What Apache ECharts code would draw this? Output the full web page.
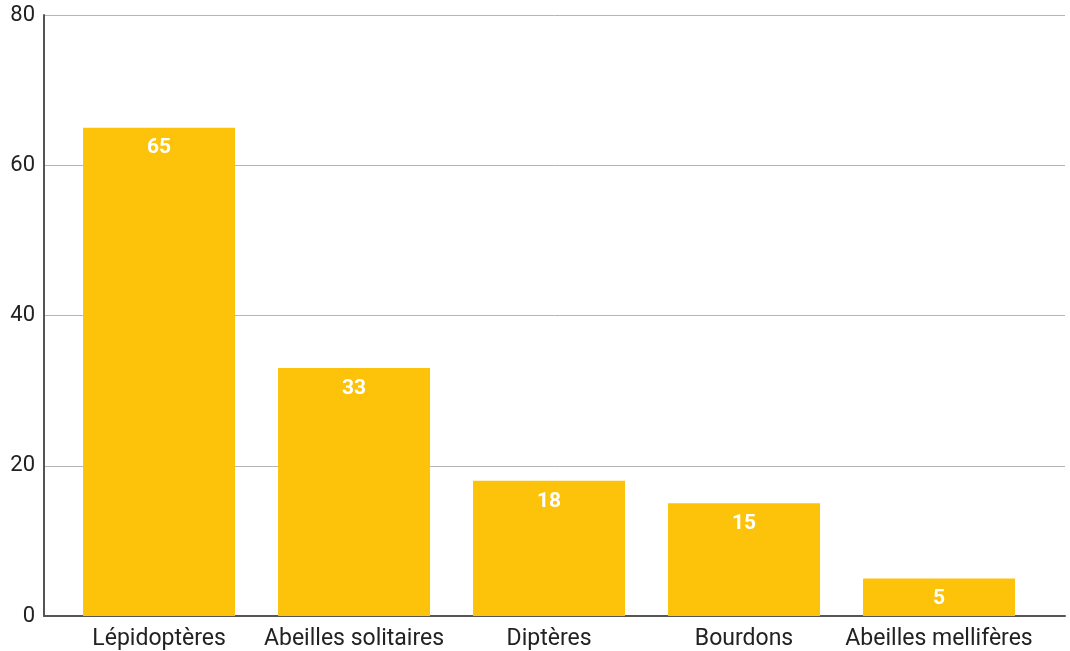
<!DOCTYPE html>
<html>
<head>
<meta charset="utf-8">
<script src="https://cdn.jsdelivr.net/npm/echarts@6/dist/echarts.min.js"></script>
<style>
  html, body { margin: 0; padding: 0; background: #fff; }
  #chart { width: 1070px; height: 651px; }
</style>
</head>
<body>
<div id="chart"></div>
<script>
// ── DATA ───────────────────────────────────────────
const categories = ['Lépidoptères', 'Abeilles solitaires', 'Diptères', 'Bourdons', 'Abeilles mellifères'];
const values = [65, 33, 18, 15, 5];
const yTicks = [0, 20, 40, 60, 80];

// ── CHART ──────────────────────────────────────────
const chart = echarts.init(document.getElementById('chart'));
const FONT = 'Roboto, "Noto Sans", sans-serif';

chart.setOption({
  animation: false,
  backgroundColor: '#fff',
  grid: { left: 44, right: 5, top: 15, bottom: 33, containLabel: false },
  xAxis: {
    type: 'value',
    min: -0.59,
    max: 4.646,
    splitLine: { show: false },
    axisLine: { show: true, onZero: false, lineStyle: { color: '#555', width: 2 } },
    axisTick: { show: false },
    axisLabel: {
      customValues: categories.map((_, i) => i),
      formatter: v => categories[Math.round(v)] || '',
      color: '#222', fontSize: 23, fontFamily: FONT, margin: 12
    }
  },
  yAxis: {
    type: 'value',
    min: yTicks[0],
    max: yTicks[yTicks.length - 1],
    interval: 20,
    axisLine: { show: true, onZero: false, lineStyle: { color: '#555', width: 2 } },
    axisTick: { show: false },
    splitLine: { lineStyle: { color: '#b5b5b5', width: 1 } },
    axisLabel: { color: '#222', fontSize: 22, fontFamily: FONT, margin: 9 }
  },
  series: [{
    type: 'bar',
    data: values.map((v, i) => [i, v]),
    barWidth: 152,
    itemStyle: { color: '#FCC30A' },
    label: {
      show: true,
      position: 'insideTop',
      distance: 10,
      color: '#fff',
      fontWeight: 'bold',
      fontSize: 21,
      fontFamily: FONT,
      formatter: p => p.value[1]
    }
  }]
});
</script>
</body>
</html>
